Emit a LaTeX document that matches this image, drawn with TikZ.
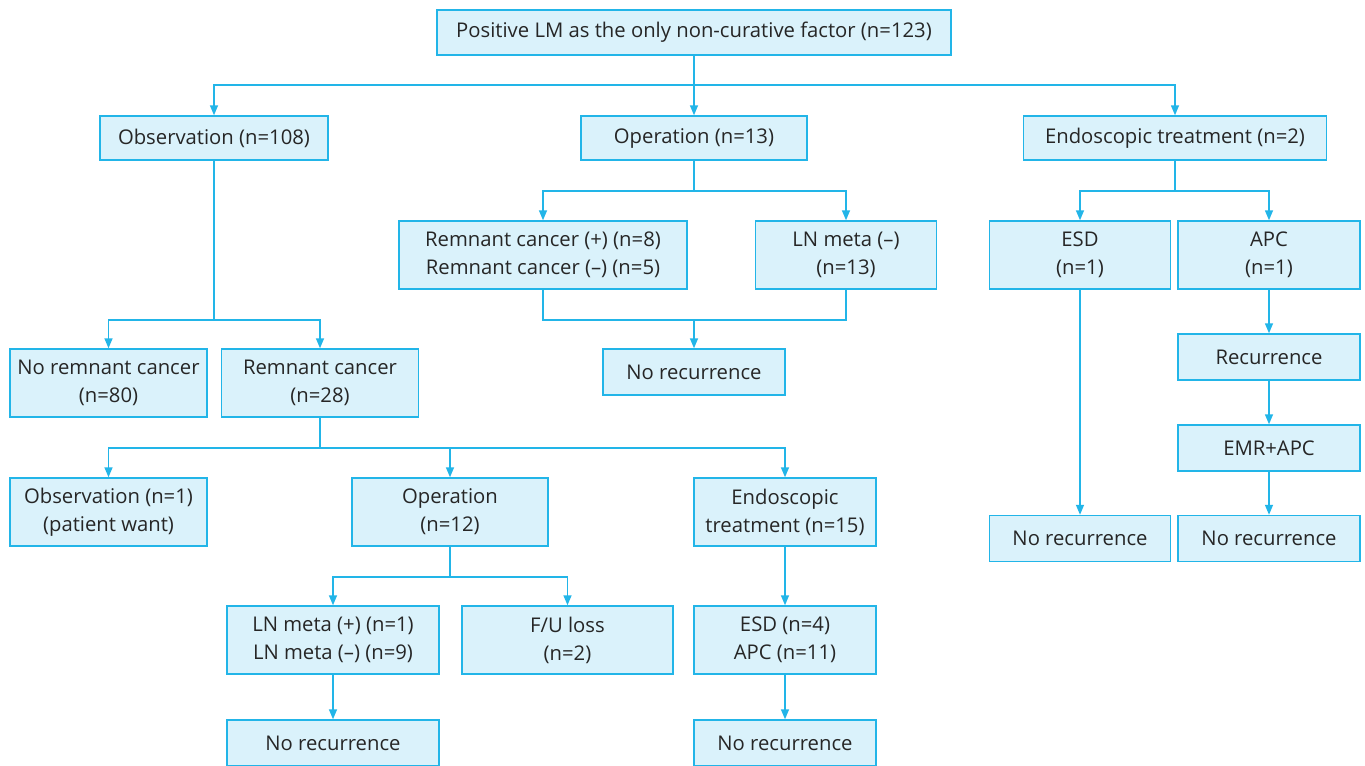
\documentclass[tikz,border=0pt]{standalone}
\usepackage{fontspec}
\setmainfont{Open Sans}
\usetikzlibrary{arrows.meta}
\definecolor{boxfill}{HTML}{DAF2FB}
\definecolor{boxline}{HTML}{22B5E8}
\definecolor{txt}{HTML}{262626}
\tikzset{
  box/.style={draw=boxline, fill=boxfill, line width=1.1pt, text=txt, align=center,
    inner sep=0pt, font=\fontsize{15.2pt}{21pt}\selectfont},
  conn/.style={draw=boxline, line width=1.1pt},
  arr/.style={conn, -{Triangle[length=7.5pt,width=6pt]}}
}
\begin{document}
\begin{tikzpicture}[x=0.75pt,y=-0.75pt]
\clip (0,0) rectangle (1365,765);
\fill[white] (0,0) rectangle (1365,765);
% nodes
\node[box, minimum width=385.5pt, minimum height=33.75pt] (top) at (694,32.5) {Positive LM as the only non-curative factor (n=123)};
\node[box, minimum width=171pt, minimum height=33pt] (obs) at (214,138) {Observation (n=108)};
\node[box, minimum width=169.5pt, minimum height=33pt] (op) at (694,138) {Operation (n=13)};
\node[box, minimum width=227.25pt, minimum height=33pt] (endo) at (1175,138) {Endoscopic treatment (n=2)};
\node[box, minimum width=216pt, minimum height=51pt] (rem) at (543,255) {Remnant cancer (+) (n=8)\\Remnant cancer (--) (n=5)};
\node[box, minimum width=135.75pt, minimum height=51pt] (lnm) at (846,255) {LN meta (--)\\(n=13)};
\node[box, minimum width=135.75pt, minimum height=51pt] (esd1) at (1080,255) {ESD\\(n=1)};
\node[box, minimum width=136.5pt, minimum height=51pt] (apc1) at (1269,255) {APC\\(n=1)};
\node[box, minimum width=136.5pt, minimum height=34.5pt] (norec1) at (694,372) {No recurrence};
\node[box, minimum width=147.75pt, minimum height=51pt] (norem) at (108.5,383) {No remnant cancer\\(n=80)};
\node[box, minimum width=147.75pt, minimum height=51pt] (remc) at (320,383) {Remnant cancer\\(n=28)};
\node[box, minimum width=147.75pt, minimum height=51pt] (obs1) at (108.5,512) {Observation (n=1)\\(patient want)};
\node[box, minimum width=147pt, minimum height=51pt] (op12) at (450,512) {Operation\\(n=12)};
\node[box, minimum width=136.5pt, minimum height=51pt] (endo15) at (785,512) {Endoscopic\\treatment (n=15)};
\node[box, minimum width=159pt, minimum height=51pt] (lnpm) at (333,640) {LN meta (+) (n=1)\\LN meta (--) (n=9)};
\node[box, minimum width=158.25pt, minimum height=51pt] (fu) at (567.5,640) {F/U loss\\(n=2)};
\node[box, minimum width=136.5pt, minimum height=51pt] (esdapc) at (785,640) {ESD (n=4)\\APC (n=11)};
\node[box, minimum width=159pt, minimum height=34.5pt] (norec2) at (333,743) {No recurrence};
\node[box, minimum width=136.5pt, minimum height=34.5pt] (norec3) at (785,743) {No recurrence};
\node[box, minimum width=136.5pt, minimum height=34.5pt] (recur) at (1269,357) {Recurrence};
\node[box, minimum width=136.5pt, minimum height=34.5pt] (emr) at (1269,448) {EMR+APC};
\node[box, minimum width=135.75pt, minimum height=34.5pt] (norec4) at (1080,538.5) {No recurrence};
\node[box, minimum width=136.5pt, minimum height=34.5pt] (norec5) at (1269,538.5) {No recurrence};
% coordinates
\coordinate (j1) at (694,85);
\coordinate (j2) at (694,191);
\coordinate (j3) at (1175,191);
\coordinate (j4) at (694,320);
\coordinate (j5) at (214,320);
\coordinate (j6) at (320,448);
\coordinate (j7) at (450,577);
% connectors
\draw[conn] (top.south) -- (j1);
\draw[arr] (j1) -| (obs.north);
\draw[arr] (j1) -- (op.north);
\draw[arr] (j1) -| (endo.north);
\draw[conn] (op.south) -- (j2);
\draw[arr] (j2) -| (rem.north);
\draw[arr] (j2) -| (lnm.north);
\draw[conn] (endo.south) -- (j3);
\draw[arr] (j3) -| (esd1.north);
\draw[arr] (j3) -| (apc1.north);
\draw[conn] (rem.south) |- (j4) -| (lnm.south);
\draw[arr] (j4) -- (norec1.north);
\draw[conn] (obs.south) -- (j5);
\draw[arr] (j5) -| (norem.north);
\draw[arr] (j5) -| (remc.north);
\draw[conn] (remc.south) -- (j6);
\draw[arr] (j6) -| (obs1.north);
\draw[arr] (j6) -| (op12.north);
\draw[arr] (j6) -| (endo15.north);
\draw[conn] (op12.south) -- (j7);
\draw[arr] (j7) -| (lnpm.north);
\draw[arr] (j7) -| (fu.north);
\draw[arr] (endo15.south) -- (esdapc.north);
\draw[arr] (lnpm.south) -- (norec2.north);
\draw[arr] (esdapc.south) -- (norec3.north);
\draw[arr] (esd1.south) -- (norec4.north);
\draw[arr] (apc1.south) -- (recur.north);
\draw[arr] (recur.south) -- (emr.north);
\draw[arr] (emr.south) -- (norec5.north);
\end{tikzpicture}
\end{document}
